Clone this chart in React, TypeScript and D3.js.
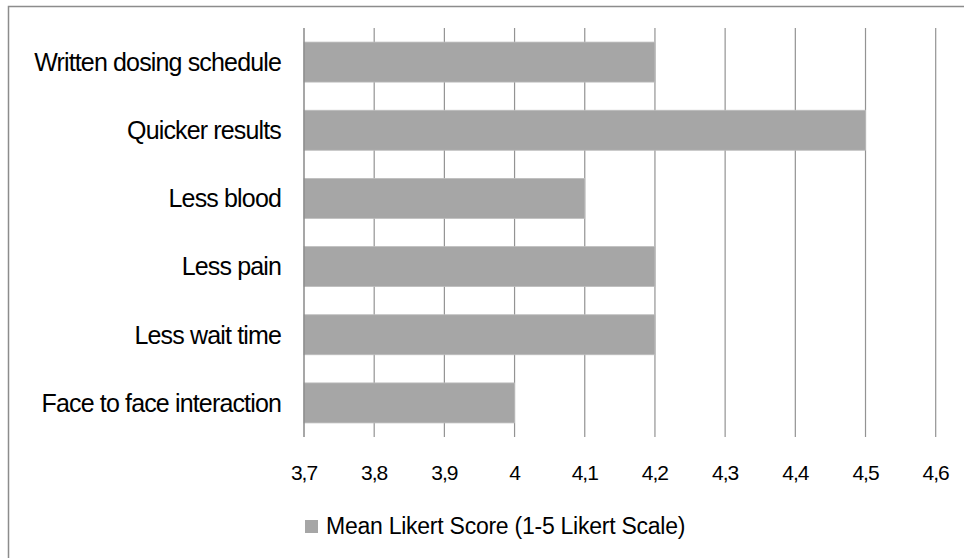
import React from "react";
import * as d3 from "d3";

const categories = [
  "Written dosing schedule",
  "Quicker results",
  "Less blood",
  "Less pain",
  "Less wait time",
  "Face to face interaction",
];
const values = [4.2, 4.5, 4.1, 4.2, 4.2, 4.0];
const tickValues = [3.7, 3.8, 3.9, 4.0, 4.1, 4.2, 4.3, 4.4, 4.5, 4.6];
const tickLabels = ["3,7", "3,8", "3,9", "4", "4,1", "4,2", "4,3", "4,4", "4,5", "4,6"];
const seriesName = "Mean Likert Score (1-5 Likert Scale)";

const W = 964;
const H = 558;
const FONT = "'Liberation Sans', Arial, sans-serif";

export default function App() {
  const x = d3.scaleLinear().domain([3.7, 4.6]).range([304, 935.7]);
  const y = d3
    .scaleBand<string>()
    .domain(categories)
    .range([28, 437])
    .paddingInner(0.413)
    .paddingOuter(0.2065);

  return (
    <svg
      width={W}
      height={H}
      style={{ position: "absolute", left: 0, top: 0, background: "#fff" }}
    >
      <rect x={0} y={0} width={W} height={H} fill="#fff" />
      <rect x={8.5} y={6.5} width={W + 40} height={H + 40} fill="none" stroke="#8c8c8c" strokeWidth={1.5} />
      {/* gridlines */}
      {tickValues.map((t, i) =>
        i === 0 ? null : (
          <line key={"g" + i} x1={x(t)} x2={x(t)} y1={28} y2={437} stroke="#939393" strokeWidth={1.2} />
        )
      )}
      {/* bars */}
      {categories.map((c, i) => (
        <rect
          key={"b" + i}
          x={x(3.7)}
          y={y(c)!}
          width={x(values[i]) - x(3.7)}
          height={y.bandwidth()}
          fill="#a6a6a6"
          stroke="#bdbdbd"
          strokeWidth={0.8}
        />
      ))}
      {/* left axis */}
      <line x1={x(3.7)} x2={x(3.7)} y1={28} y2={437} stroke="#8a8a8a" strokeWidth={1.5} />
      {/* category labels */}
      {categories.map((c, i) => (
        <text
          key={"c" + i}
          x={281}
          y={y(c)! + y.bandwidth() / 2}
          dy="0.35em"
          textAnchor="end"
          fontFamily={FONT}
          fontSize={25}
          letterSpacing={-0.85}
          fill="#000"
        >
          {c}
        </text>
      ))}
      {/* tick labels */}
      {tickValues.map((t, i) => (
        <text
          key={"t" + i}
          x={x(t)}
          y={480}
          textAnchor="middle"
          fontFamily={FONT}
          fontSize={21}
          letterSpacing={-1}
          fill="#000"
        >
          {tickLabels[i]}
        </text>
      ))}
      {/* legend */}
      <rect x={305} y={520} width={13} height={13} fill="#a6a6a6" />
      <text x={326} y={534} fontFamily={FONT} fontSize={23} letterSpacing={-0.25} fill="#000">
        {seriesName}
      </text>
    </svg>
  );
}
